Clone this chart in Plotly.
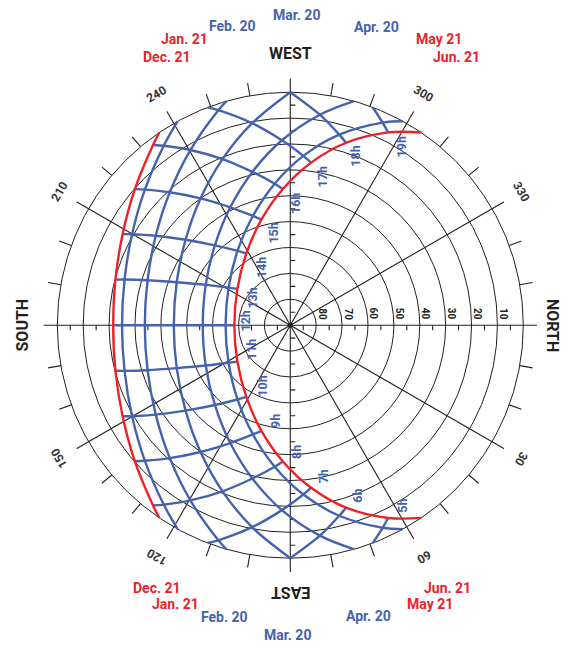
import math
import plotly.graph_objects as go

# ---------------- data ----------------
# sun position per date: solar time (h), azimuth (deg from N, clockwise), altitude (deg)
dec21_time = [7.71, 8, 9, 10, 11, 12, 13, 14, 15, 16, 16.29]
dec21_az = [124.2, 127.3, 138.8, 151.5, 165.4, 180, 194.6, 208.5, 221.2, 232.7, 235.8]
dec21_alt = [0, 2.5, 10.2, 16.3, 20.2, 21.6, 20.2, 16.3, 10.2, 2.5, 0]

jan21_time = [7.42, 8, 9, 10, 11, 12, 13, 14, 15, 16, 16.58]
jan21_az = [118.9, 125.2, 137.0, 150.1, 164.6, 180, 195.4, 209.9, 223.0, 234.8, 241.1]
jan21_alt = [0, 5.2, 13.2, 19.5, 23.6, 25.0, 23.6, 19.5, 13.2, 5.2, 0]

feb20_time = [6.76, 7, 8, 9, 10, 11, 12, 13, 14, 15, 16, 17, 17.24]
feb20_az = [105.9, 108.5, 119.7, 132.2, 146.4, 162.5, 180, 197.5, 213.6, 227.8, 240.3, 251.5, 254.1]
feb20_alt = [0, 2.4, 12.1, 20.7, 27.6, 32.2, 33.8, 32.2, 27.6, 20.7, 12.1, 2.4, 0]

mar20_time = [6, 7, 8, 9, 10, 11, 12, 13, 14, 15, 16, 17, 18]
mar20_az = [90, 100.7, 112.2, 125.3, 140.8, 159.3, 180, 200.7, 219.2, 234.7, 247.8, 259.3, 270]
mar20_alt = [0, 10.6, 20.7, 30.0, 37.8, 43.1, 45.0, 43.1, 37.8, 30.0, 20.7, 10.6, 0]

apr20_time = [5.24, 6, 7, 8, 9, 10, 11, 12, 13, 14, 15, 16, 17, 18, 18.76]
apr20_az = [74.1, 82.0, 92.6, 103.9, 117.0, 133.4, 154.5, 180, 205.5, 226.6, 243.0, 256.1, 267.4, 278.0, 285.9]
apr20_alt = [0, 7.9, 18.5, 29.0, 38.9, 47.6, 53.8, 56.2, 53.8, 47.6, 38.9, 29.0, 18.5, 7.9, 0]

may21_time = [4.58, 5, 6, 7, 8, 9, 10, 11, 12, 13, 14, 15, 16, 17, 18, 19, 19.42]
may21_az = [61.1, 65.5, 75.6, 85.6, 96.3, 108.9, 125.4, 148.7, 180, 211.3, 234.6, 251.1, 263.7, 274.4, 284.4, 294.5, 298.9]
may21_alt = [0, 4.0, 14.0, 24.4, 35.0, 45.4, 54.8, 62.1, 65.0, 62.1, 54.8, 45.4, 35.0, 24.4, 14.0, 4.0, 0]

jun21_time = [4.29, 5, 6, 7, 8, 9, 10, 11, 12, 13, 14, 15, 16, 17, 18, 19, 19.71]
jun21_az = [55.8, 63.1, 73.0, 82.7, 93.1, 105.3, 121.5, 145.5, 180, 214.5, 238.5, 254.7, 266.9, 277.3, 287.0, 296.9, 304.2]
jun21_alt = [0, 6.5, 16.3, 26.7, 37.3, 47.7, 57.5, 65.2, 68.4, 65.2, 57.5, 47.7, 37.3, 26.7, 16.3, 6.5, 0]

# where hour lines meet the horizon (between two date curves)
horizon_hours = [5, 7, 17, 19]
horizon_az = [69.3, 110.8, 249.2, 290.7]

hour_list = list(range(5, 20))
altitude_rings = [80, 70, 60, 50, 40, 30, 20, 10, 0]
azimuth_labels = [240, 300, 210, 330, 150, 30, 120, 60]
date_labels = ["Dec. 21", "Jan. 21", "Feb. 20", "Mar. 20", "Apr. 20", "May 21", "Jun. 21"]

# ---------------- styling / layout constants ----------------
PAGE_OFF = 8                   # the page body margin shifts the figure by 8 px
W, H = 568 - PAGE_OFF, 646 - PAGE_OFF
CX, CY = 290.3, 325.2          # centre of the dial in window pixels
R0 = 233.0                     # pixel radius of the horizon ring
RMAX = 95.4                    # radial range (zenith degrees) at the plot edge
SCALE = R0 / 90.0
BLUE = "#4563ad"
RED = "#ed2229"
INK = "#231f20"
FONT = "Roboto, Liberation Sans, sans-serif"

dates = [
    (dec21_time, dec21_az, dec21_alt, RED),
    (jan21_time, jan21_az, jan21_alt, BLUE),
    (feb20_time, feb20_az, feb20_alt, BLUE),
    (mar20_time, mar20_az, mar20_alt, BLUE),
    (apr20_time, apr20_az, apr20_alt, BLUE),
    (may21_time, may21_az, may21_alt, BLUE),
    (jun21_time, jun21_az, jun21_alt, RED),
]

fig = go.Figure()

# spokes every 30 degrees and outer 10-degree ticks
sp_r, sp_t = [], []
for a in range(0, 360, 30):
    sp_r += [0, RMAX, None]
    sp_t += [a, a, None]
for a in range(0, 360, 10):
    if a % 30:
        sp_r += [90, 95.0, None]
        sp_t += [a, a, None]
fig.add_trace(go.Scatterpolar(r=sp_r, theta=sp_t, mode="lines",
                              line=dict(color=INK, width=1.1), hoverinfo="skip"))

# small 5-degree ticks along the four main axes
tk_r, tk_t = [], []
L = 5.0 / SCALE
for a, s in [(0, 1), (180, -1), (270, 1), (90, -1)]:
    for z in range(5, 90, 10):
        tk_r += [z, math.hypot(z, L), None]
        tk_t += [a, a + s * math.degrees(math.atan2(L, z)), None]
fig.add_trace(go.Scatterpolar(r=tk_r, theta=tk_t, mode="lines",
                              line=dict(color=INK, width=1.1), hoverinfo="skip"))

# hour lines
for h in hour_list:
    rr, tt = [], []
    if h in horizon_hours:
        i = horizon_hours.index(h)
        rr.append(90.0)
        tt.append(horizon_az[i])
    for tm, az, al, _ in dates:
        if h in tm:
            j = tm.index(h)
            rr.append(90 - al[j])
            tt.append(az[j])
    fig.add_trace(go.Scatterpolar(r=rr, theta=tt, mode="lines",
                                  line=dict(color=BLUE, width=2.4, shape="spline", smoothing=0.8),
                                  hoverinfo="skip"))

# date curves (blue first, red on top)
for tm, az, al, col in sorted(dates, key=lambda d: d[3] == RED):
    fig.add_trace(go.Scatterpolar(r=[90 - v for v in al], theta=az, mode="lines",
                                  line=dict(color=col, width=2.4, shape="spline", smoothing=1.0),
                                  hoverinfo="skip"))

# centre dot
fig.add_trace(go.Scatterpolar(r=[0], theta=[0], mode="markers",
                              marker=dict(color=INK, size=5), hoverinfo="skip"))

cxf, cyf = CX - PAGE_OFF, CY - PAGE_OFF
dom_x = [(cxf - RMAX * SCALE) / W, (cxf + RMAX * SCALE) / W]
dom_y = [1 - (cyf + RMAX * SCALE) / H, 1 - (cyf - RMAX * SCALE) / H]

fig.update_layout(
    width=W, height=H, margin=dict(l=0, r=0, t=0, b=0),
    paper_bgcolor="white", showlegend=False,
    polar=dict(
        domain=dict(x=dom_x, y=dom_y),
        bgcolor="white",
        radialaxis=dict(range=[0, RMAX], tickmode="array", tickvals=[90 - a for a in altitude_rings],
                        showticklabels=False, ticks="", showline=False,
                        gridcolor=INK, gridwidth=1.1),
        angularaxis=dict(rotation=0, direction="clockwise", showgrid=False, showline=False,
                         ticks="", showticklabels=False),
    ),
)

ann = []


def px_ann(text, x, y, angle, color, size):
    ann.append(dict(text="<b>%s</b>" % text, x=(x - PAGE_OFF) / W, y=1 - (y - PAGE_OFF) / H,
                    xref="paper", yref="paper",
                    textangle=angle, showarrow=False, xanchor="center", yanchor="middle",
                    font=dict(family=FONT, size=size, color=color)))


def polar_ann(text, rpx, az, color, size):
    x = CX + rpx * math.cos(math.radians(az))
    y = CY + rpx * math.sin(math.radians(az))
    ang = (az - 270 + 180) % 360 - 180
    px_ann(text, x, y, ang, color, size)


# azimuth labels
for a in azimuth_labels:
    polar_ann(str(a), 267, a, "#333333", 12)
# cardinal labels
polar_ann("WEST", 272, 270, INK, 16)
polar_ann("EAST", 268, 90, INK, 16)
polar_ann("SOUTH", 268, 180, INK, 16)
polar_ann("NORTH", 262, 0, INK, 16)

# altitude ring labels
for a in altitude_rings[:-1]:
    px_ann(str(a), CX + (90 - a) * SCALE + 5.5, 314, 90, INK, 10)

# hour labels (rotated, blue)
hour_label_pos = [(401.7, 506), (356.7, 496), (323.3, 476), (296, 452), (275, 421),
                  (261.7, 386), (251.7, 349.3), (244.5, 321), (252.3, 298.3), (261.7, 267.3),
                  (273.3, 233.3), (295.7, 203.3), (322.7, 176.7), (356, 156.7), (401.7, 146.7)]
for h, (x, y) in zip(hour_list, hour_label_pos):
    px_ann("%dh" % h, x, y, -90, BLUE, 12.5)

# date labels at top and bottom
top_pos = [(166.7, 56.7), (184, 39), (232.3, 26), (296, 15.5), (376.7, 26.7), (439, 39), (456, 57.3)]
bot_pos = [(157.3, 588.3), (175, 604.3), (224, 616.7), (287.3, 635), (368.3, 616), (430, 604.3), (447.7, 588.3)]
label_cols = [RED, RED, BLUE, BLUE, BLUE, RED, RED]
for txt, col, (x1, y1), (x2, y2) in zip(date_labels, label_cols, top_pos, bot_pos):
    px_ann(txt, x1, y1, 0, col, 14)
    px_ann(txt, x2, y2, 0, col, 14)

fig.update_layout(annotations=ann)
fig.write_html("out.html")
